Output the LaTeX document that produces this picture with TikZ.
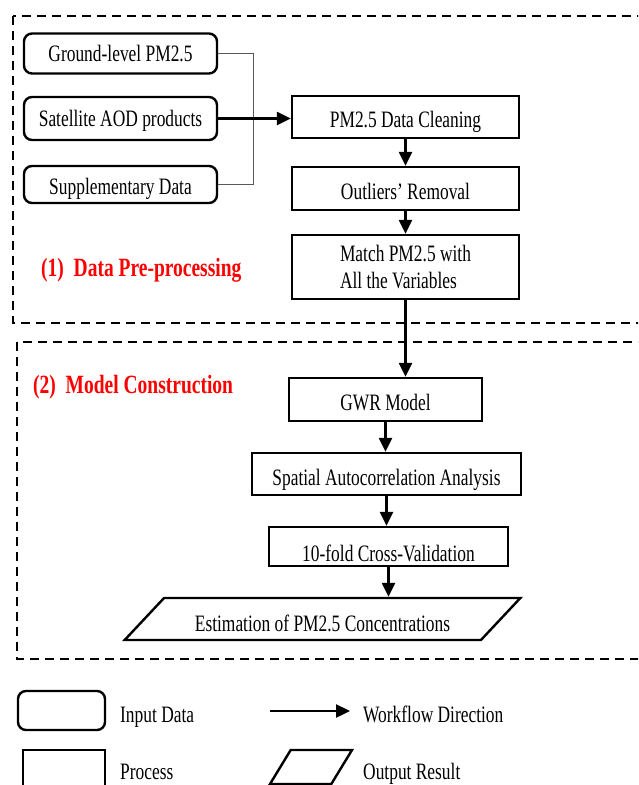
\documentclass[tikz,border=0pt]{standalone}
\usepackage{fontspec}
\setmainfont{Liberation Serif}
\usepackage{graphicx}
\usetikzlibrary{arrows.meta, positioning, shapes.geometric}
\newcommand{\tallt}[2][0pt]{\raisebox{-#1}[\height][\depth]{\scalebox{1}[1.35]{#2}}}

\begin{document}
\begin{tikzpicture}[
    x=1pt, y=-1pt,
    node distance=15pt and 15pt,
    base/.style={draw, line width=2.4pt, inner sep=0pt, align=center,
                 font=\fontsize{17.4}{20}\selectfont},
    inbox/.style={base, rectangle, rounded corners=8pt, minimum width=193pt, minimum height=40pt},
    proc/.style={base, rectangle, minimum height=42pt},
    outp/.style={base, trapezium, trapezium left angle=28, trapezium right angle=152,
                 trapezium stretches=true, minimum height=42pt},
    arr/.style={-{Triangle[length=14pt, width=13pt]}, line width=2.4pt},
    feed/.style={draw=gray!70!black, line width=1pt},
    grp/.style={line width=2.2pt, dash pattern=on 9pt off 6pt},
    stage/.style={font=\fontsize{19.5}{22}\selectfont\bfseries, text=red, inner sep=0pt},
    legtxt/.style={font=\fontsize{17.4}{20}\selectfont, inner sep=0pt},
]
    \clip (0,0) rectangle (638,785);
    \draw[grp] (13,16) rectangle (660,323);
    \draw[grp] (17,342) rectangle (660,659);

    \node[stage, anchor=base west] (prelbl) at (41,276) {\tallt{(1)\ \ Data Pre-processing}};
    \node[stage, anchor=base west] (modlbl) at (33,393) {\tallt{(2)\ \ Model Construction}};

    \node[inbox] (ground) at (120.5,53.5) {\tallt{Ground-level PM2.5}};
    \node[inbox, minimum height=43pt] (aod) at (120.5,118.5) {\tallt[2pt]{Satellite AOD products}};
    \node[inbox, minimum height=37pt] (supp) at (120.5,184.5) {\tallt[4pt]{Supplementary Data}};

    \node[proc, minimum width=227pt] (clean) at (405.5,117) {\tallt[5pt]{PM2.5 Data Cleaning}};
    \node[proc, minimum width=227pt, minimum height=43pt] (outlier) at (405.5,188.5) {\tallt[3pt]{Outliers' Removal}};
    \node[proc, minimum width=227pt, minimum height=64pt] (match) at (405.5,267)
        {\tallt[3pt]{\begin{tabular}{@{}l@{}}Match PM2.5 with\\All the Variables\end{tabular}}};
    \node[proc, minimum width=193pt, minimum height=43pt] (gwr) at (385.5,399.5) {\tallt[3pt]{GWR Model}};
    \node[proc, minimum width=269pt] (spatial) at (386.5,474) {\tallt[6pt]{Spatial Autocorrelation Analysis}};
    \node[proc, minimum width=239pt, minimum height=39pt] (cv) at (388.5,546.5) {\tallt[7pt]{10-fold Cross-Validation}};
    \node[outp, minimum width=397pt] (est) at (322.5,619) {\tallt[4pt]{Estimation of PM2.5 Concentrations}};

    \draw[feed] (ground.east) -- ++(35,0) |- (supp.east);
    \draw[arr] (aod.east) -- (aod.east -| clean.west);
    \draw[arr] (clean) -- (outlier);
    \draw[arr] (outlier) -- (match);
    \draw[arr] (match.south) -- (match.south |- gwr.north);
    \draw[arr] (gwr) -- (gwr |- spatial.north);
    \draw[arr] (spatial) -- (spatial |- cv.north);
    \draw[arr] (cv) -- (cv |- est.north);

    % legend
    \node[inbox, minimum width=87pt, minimum height=39pt] (keyin) at (61.5,710.5) {};
    \node[legtxt, anchor=base west] (keyintxt) at (120,722) {\tallt{Input Data}};
    \node[proc, minimum width=82pt, minimum height=50pt] (keyproc) at (64,775) {};
    \node[legtxt, anchor=base west] (keyproctxt) at (120,779) {\tallt{Process}};
    \coordinate (keyfrom) at (270,711);
    \coordinate (keyto) at (350,711);
    \draw[arr] (keyfrom) -- (keyto);
    \node[legtxt, anchor=base west] (keyarrtxt) at (363,722) {\tallt{Workflow Direction}};
    \node[outp, inner sep=2pt, trapezium left angle=63, trapezium right angle=117,
          minimum width=82pt, minimum height=34pt] (keyout) at (311,767) {};
    \node[legtxt, anchor=base west] (keyouttxt) at (363,779) {\tallt{Output Result}};
\end{tikzpicture}
\end{document}
